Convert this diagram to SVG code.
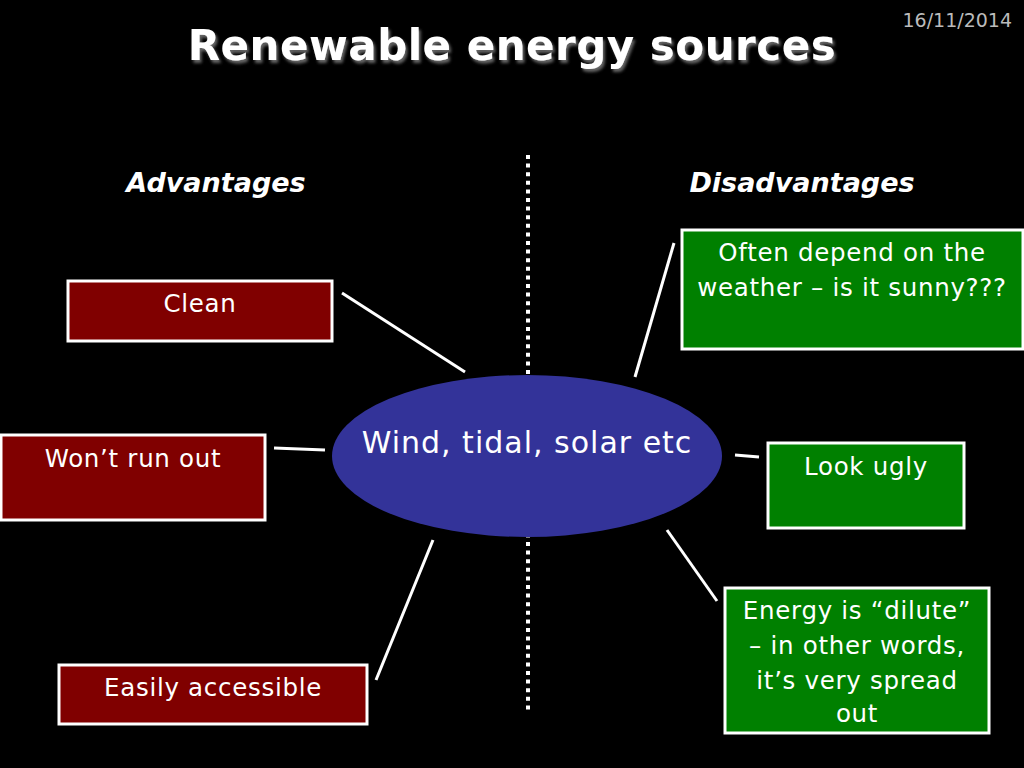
<svg xmlns="http://www.w3.org/2000/svg" width="1024" height="768" viewBox="0 0 1024 768">
<defs>
<style>
.t{font-family:"DejaVu Sans","Noto Sans",sans-serif;fill:#fff;text-anchor:middle}
.bx{font-size:24.5px;letter-spacing:0.7px}
.adv{fill:#800000;stroke:#fff;stroke-width:3}
.dis{fill:#008000;stroke:#fff;stroke-width:3}
.cn line{stroke:#fff;stroke-width:3}
</style>
<filter id="sh" x="-5%" y="-20%" width="110%" height="150%">
<feDropShadow dx="2" dy="3" stdDeviation="1.5" flood-color="#666"/>
</filter>
</defs>
<rect width="1024" height="768" fill="#000"/>
<text x="1012" y="27" style="font-family:'DejaVu Sans',sans-serif;font-size:19px;fill:#bbb;text-anchor:end">16/11/2014</text>
<text class="t" x="512" y="60" style="font-size:42px;font-weight:bold;letter-spacing:0.5px" filter="url(#sh)">Renewable energy sources</text>
<text class="t" x="216" y="192" style="font-size:27px;font-weight:bold;font-style:italic">Advantages</text>
<text class="t" x="802" y="192" style="font-size:27px;font-weight:bold;font-style:italic">Disadvantages</text>
<line x1="528" y1="155" x2="528" y2="714" stroke="#fff" stroke-width="4" stroke-dasharray="4 4.6"/>
<g class="cn" id="connectors">
<line x1="342" y1="293" x2="465" y2="372"/>
<line x1="274" y1="448" x2="325" y2="450"/>
<line x1="376" y1="680" x2="433" y2="540"/>
<line x1="674" y1="243" x2="635" y2="377"/>
<line x1="735" y1="455" x2="759" y2="457"/>
<line x1="667" y1="530" x2="717" y2="601"/>
</g>
<g id="center">
<ellipse cx="527" cy="456" rx="195" ry="81" fill="#333399"/>
<text class="t" x="527" y="453" style="font-size:30px;letter-spacing:1px">Wind, tidal, solar etc</text>
</g>
<g id="clean">
<rect class="adv" x="68" y="281" width="264" height="60"/>
<text class="t bx" x="200" y="312">Clean</text>
</g>
<g id="wont">
<rect class="adv" x="1" y="435" width="264" height="85"/>
<text class="t bx" x="133" y="467">Won’t run out</text>
</g>
<g id="easily">
<rect class="adv" x="59" y="665" width="308" height="59"/>
<text class="t bx" x="213" y="696">Easily accessible</text>
</g>
<g id="weather">
<rect class="dis" x="682" y="230" width="341" height="119"/>
<text class="t bx" x="852" y="261">Often depend on the</text>
<text class="t bx" x="852" y="296">weather – is it sunny???</text>
</g>
<g id="ugly">
<rect class="dis" x="768" y="443" width="196" height="85"/>
<text class="t bx" x="866" y="475">Look ugly</text>
</g>
<g id="dilute">
<rect class="dis" x="725" y="588" width="264" height="145"/>
<text class="t bx" x="857" y="619">Energy is “dilute”</text>
<text class="t bx" x="857" y="654">– in other words,</text>
<text class="t bx" x="857" y="689">it’s very spread</text>
<text class="t bx" x="857" y="722">out</text>
</g>
</svg>
